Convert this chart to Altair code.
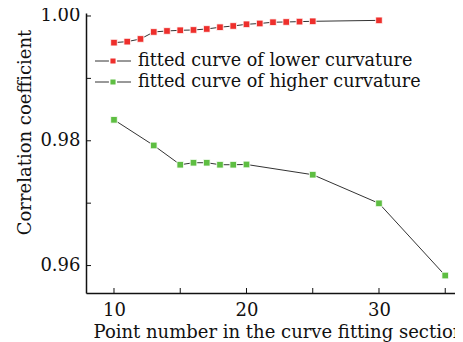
import altair as alt
import pandas as pd

# ---- data ----
low_x = [10, 11, 12, 13, 14, 15, 16, 17, 18, 19, 20, 21, 22, 23, 24, 25, 30]
low_y = [0.99573, 0.99589, 0.99632, 0.99744, 0.99760, 0.99771, 0.99776, 0.99792,
         0.99820, 0.99840, 0.99867, 0.99880, 0.99900, 0.99904, 0.99910, 0.99915, 0.99930]
high_x = [10, 13, 15, 16, 17, 18, 19, 20, 25, 30, 35]
high_y = [0.98336, 0.97925, 0.97616, 0.97648, 0.97648, 0.97616, 0.97616, 0.97620,
          0.97456, 0.96997, 0.95840]
series_names = ["fitted curve of lower curvature", "fitted curve of higher curvature"]
series_colors = ["#ee2f2c", "#5ebe42"]
x_major = [10, 20, 30]
x_minor = [15, 25, 35]
y_major = [0.96, 0.98, 1.00]
y_minor = [0.97, 0.99]

FONT = "DejaVu Serif"
W, H = 369, 280

df = pd.concat([
    pd.DataFrame({"x": low_x, "y": low_y, "series": series_names[0]}),
    pd.DataFrame({"x": high_x, "y": high_y, "series": series_names[1]}),
])

xs = alt.Scale(domain=[7.887, 35.737], nice=False, zero=False)
ys = alt.Scale(domain=[0.9556, 1.00048], nice=False, zero=False)
cs = alt.Scale(domain=series_names, range=series_colors)

base = alt.Chart(df)
lines = base.mark_line(color="#333333", strokeWidth=1).encode(
    x=alt.X("x:Q", scale=xs,
            axis=alt.Axis(values=x_major, format="d", ticks=False, grid=False,
                          labelPadding=8, domainColor="#111", domainWidth=1.5,
                          title="Point number in the curve fitting section",
                          titleX=7, titleAlign="left", titleAnchor="start",
                          titleY=44, titleBaseline="alphabetic")),
    y=alt.Y("y:Q", scale=ys,
            axis=alt.Axis(values=y_major, format=".2f", ticks=False, grid=False,
                          labelPadding=6, domainColor="#111", domainWidth=1.5,
                          title="Correlation coefficient",
                          titleX=-61, titleY=119, titleAngle=270,
                          titleAlign="center", titleBaseline="middle")),
    detail="series:N",
)
points = base.mark_square(size=44, opacity=1, filled=True, stroke="white",
                          strokeWidth=0.8).encode(
    x=alt.X("x:Q", scale=xs),
    y=alt.Y("y:Q", scale=ys),
    color=alt.Color("series:N", scale=cs, legend=None),
)

xt = pd.DataFrame({"v": x_major + x_minor})
yt = pd.DataFrame({"v": y_major + y_minor})
xticks = alt.Chart(xt).mark_rule(color="#111", strokeWidth=1).encode(
    x=alt.X("v:Q", scale=xs), y=alt.value(H), y2=alt.YValue(H - 5))
yticks = alt.Chart(yt).mark_rule(color="#111", strokeWidth=1).encode(
    y=alt.Y("v:Q", scale=ys), x=alt.value(0), x2=alt.XValue(5))

main = alt.layer(lines, xticks, yticks, points)

leg_df = pd.DataFrame({"series": series_names})
ly = alt.Y("series:N", scale=alt.Scale(type="point", domain=series_names,
                                       range=[48, 69], padding=0), axis=None)
leg_line = alt.Chart(leg_df).mark_rule(color="#333333", strokeWidth=1).encode(
    y=ly, x=alt.value(9), x2=alt.value(45))
leg_pt = alt.Chart(leg_df).mark_square(size=44, opacity=1, filled=True,
                                       stroke="white", strokeWidth=1.5).encode(
    y=ly, x=alt.value(27), color=alt.Color("series:N", scale=cs, legend=None))
leg_txt = alt.Chart(leg_df).mark_text(align="left", baseline="middle", font=FONT,
                                      fontSize=17.6, color="#111").encode(
    y=ly, x=alt.value(52), text="series:N")
legend = alt.layer(leg_line, leg_pt, leg_txt)

chart = alt.layer(main, legend).resolve_scale(y="independent").properties(
    width=W, height=H,
    autosize=alt.AutoSizeParams(type="none"),
    padding={"left": 78, "top": 5, "right": 0, "bottom": 49},
).configure_view(stroke=None).configure_axis(
    labelFont=FONT, labelFontSize=18, labelColor="#111",
    titleFont=FONT, titleFontSize=18, titleColor="#111", titleFontWeight="normal",
)

chart.save("out.html", embed_options={"renderer": "svg", "actions": False})
